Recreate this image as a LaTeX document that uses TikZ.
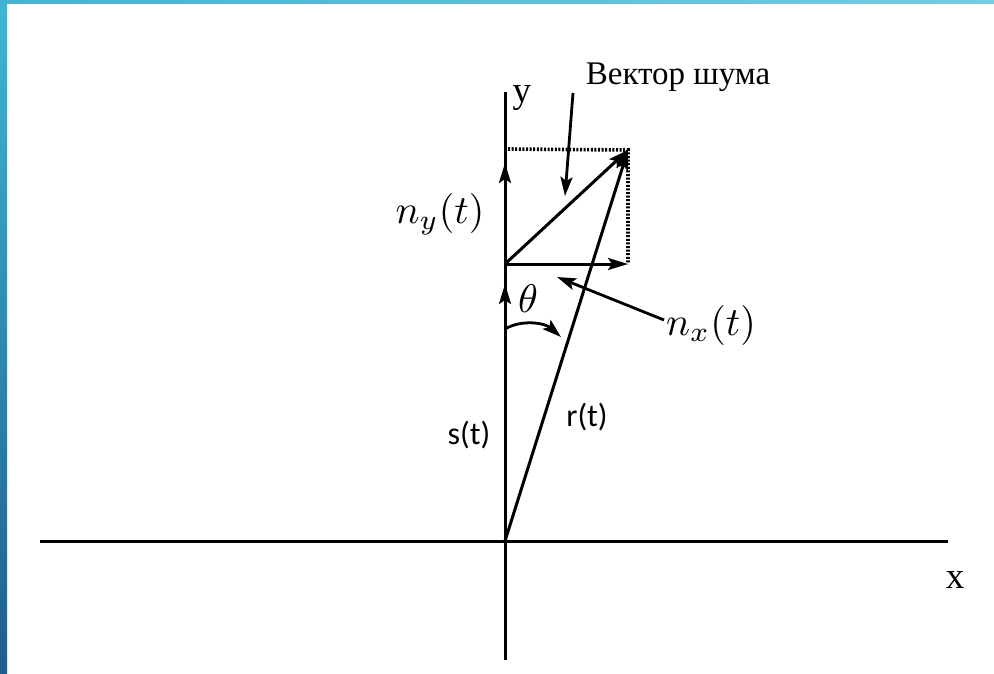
\documentclass[tikz,border=0pt]{standalone}
\usepackage{graphicx}
\usepackage{fontspec}
\setmainfont{Liberation Serif}
\newfontfamily\calib{Carlito}
\usetikzlibrary{arrows.meta}
\definecolor{barA}{HTML}{3FB6D4}
\definecolor{barB}{HTML}{72CDE3}
\definecolor{barC}{HTML}{1F5E8A}
\newcommand{\myBigMath}[1]{\scalebox{4.0}{$#1$}}
\begin{document}
\begin{tikzpicture}[x=1pt,y=-1pt,
  ax/.style={line width=3pt,black},
  vec/.style={line width=3pt,black,-{Stealth[length=20pt,width=12pt,inset=4pt]}},
  ptr/.style={line width=2.8pt,black,-{Stealth[length=19pt,width=12pt,inset=4pt]}},
  dots/.style={line width=3.6pt,black,dash pattern=on 2pt off 1.6pt},
  serif/.style={font=\fontsize{37}{40}\selectfont},
  sans/.style={font=\calib\fontsize{32}{36}\selectfont}]
\useasboundingbox (0,0) rectangle (994,673);
\fill[white] (0,0) rectangle (994,673);
% frame
\shade[left color=barA,right color=barB] (0,0) rectangle (994,3.5);
\shade[top color=barA,bottom color=barC] (0,0) rectangle (7,673);
% coordinates
\coordinate (O) at (505,541);
\coordinate (Yt) at (505,92);
\coordinate (Yb) at (505,660);
\coordinate (Xl) at (40,541);
\coordinate (Xr) at (948,541);
\coordinate (A) at (505,264);
\coordinate (P) at (628,150);
\coordinate (Q) at (628,264);
\coordinate (C) at (508,149);
\coordinate (S1) at (505,284);
\coordinate (S2) at (505,163);
% axes
\draw[ax] (Xl) -- (Xr);
\draw[ax] (Yb) -- (Yt);
% signal arrows on y axis
\draw[vec] (O) -- (S1);
\draw[vec] (A) -- (S2);
% dotted rectangle
\draw[dots] (C) -- (P) -- (Q);
% noise components
\draw[vec] (A) -- (Q);
\draw[vec] (A) -- (P);
% r(t)
\draw[vec] (O) -- (P);
% theta arc
\coordinate (T0) at (505,329);
\coordinate (T1) at (561,337);
\draw[ptr] (T0) .. controls (522,319) and (545,323) .. (T1);
% pointers
\coordinate (N0) at (573,93);
\coordinate (N1) at (565,196);
\draw[ptr] (N0) -- (N1);
\coordinate (M0) at (664,320);
\coordinate (M1) at (557,277);
\draw[ptr] (M0) -- (M1);
% labels
\node[serif,anchor=west] (ly) at (509,98) {y};
\node[serif] (lx) at (955,580) {x};
\node[font=\fontsize{33}{38}\selectfont] (lnoise) at (678,77) {Вектор шума};
\node[sans] (ls) at (469,435) {s(t)};
\node[sans] (lr) at (587,417) {r(t)};
\node (lny) at (440,214) {\myBigMath{n_y(t)}};
\node (lnx) at (711,325) {\myBigMath{n_x(t)}};
\node (lth) at (528,299) {\myBigMath{\theta}};
\end{tikzpicture}
\end{document}
